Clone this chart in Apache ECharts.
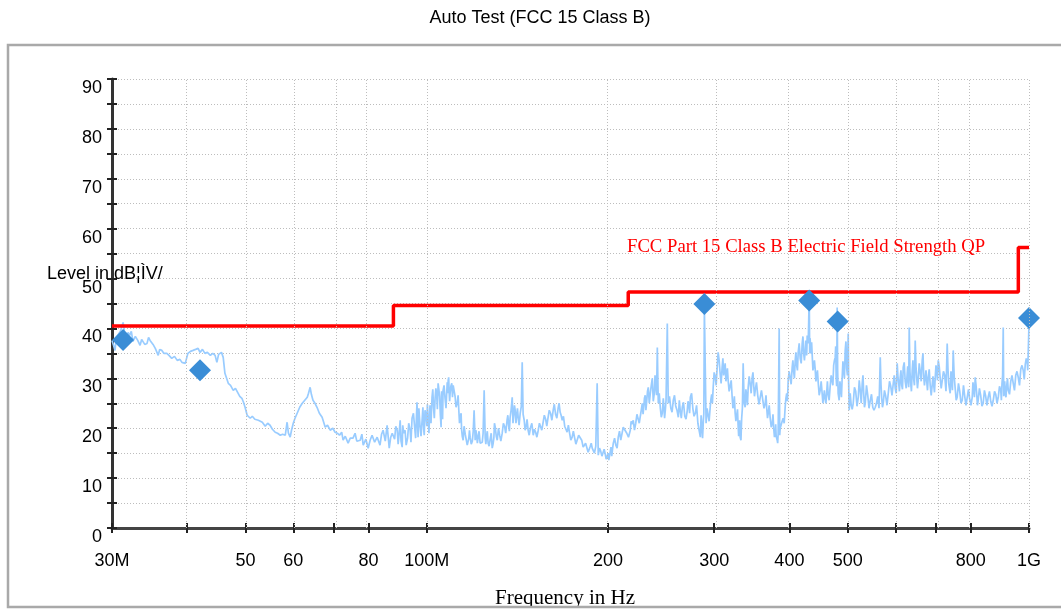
<!DOCTYPE html>
<html><head><meta charset="utf-8">
<script src="https://cdn.jsdelivr.net/npm/echarts@6.0.0/dist/echarts.min.js"></script>
<style>html,body{margin:0;padding:0;background:#fff}#c{width:1061px;height:609px}</style>
</head><body><div id="c"></div>
<script>
// ---- data (frequency in MHz, level in dBµV) ----
const xTickValues = [30,40,50,60,70,80,100,200,300,400,500,600,700,800,1000];
const xLabelValues = [30,50,60,80,100,200,300,400,500,800,1000];
const xLabelText = ['30M','50','60','80','100M','200','300','400','500','800','1G'];
const limitFreq = [30,88,88,216,216,960,960,1000];
const limitLevel = [40.5,40.5,44.6,44.6,47.3,47.3,56.2,56.2];
const peakFreq = [31.3,42.0,289,431.5,481,1000];
const peakLevel = [37.7,31.6,44.9,45.6,41.4,42.1];
// scan trace: main readings
const traceMain = [
[30.0,37.6],[30.2,36.5],[30.35,35.6],[30.5,38.2],[30.7,38.5],[31.0,39.5],[31.3,41.2],[31.5,38.8],[31.65,37.8],[31.9,39.2],[32.1,38.6],[32.3,39.4],[32.5,37.4],[32.8,38.4],[33.1,37.6],[33.4,36.6],[33.6,37.8],[33.8,38.0],[34.0,36.8],[34.3,37.0],[34.5,38.2],[34.7,37.6],[34.9,38.0],[35.1,36.8],[35.4,36.0],[35.8,34.6],[36.0,35.8],[36.3,35.6],[36.6,35.0],[37.0,35.0],[37.3,34.6],[37.7,34.0],[38.1,34.4],[38.5,33.6],[38.9,33.8],[39.2,33.2],[39.7,33.0],[40.1,35.0],[40.5,35.4],[40.9,35.6],[41.3,35.8],[41.7,36.0],[42.0,35.2],[42.4,35.8],[42.8,35.0],[43.2,35.2],[43.7,34.6],[44.1,35.0],[44.5,34.6],[44.8,33.2],[45.1,34.8],[45.4,35.0],[45.6,35.2],[45.9,34.2],
[46.2,31.0],[46.5,30.0],[46.8,29.0],[47.2,28.6],[47.7,27.6],[48.1,28.0],[48.6,27.0],[48.9,26.4],[49.3,26.0],[49.6,25.2],[49.9,24.2],[50.3,22.6],[50.6,22.8],[50.9,22.0],[51.3,22.4],[51.8,21.8],[52.5,21.6],[53.3,21.2],[53.6,20.8],[53.9,20.4],[54.4,21.0],[54.9,20.6],[55.4,19.8],[56.0,19.2],[56.5,19.0],[57.1,18.6],[57.6,18.8],[58.2,18.6],[58.6,21.2],[58.9,19.0],[59.3,18.2],[59.6,19.6],[60.0,21.0],
[60.4,22.0],[60.9,23.0],[61.5,24.2],[62.1,25.0],[62.7,25.6],[63.3,26.2],[63.6,27.0],[64.0,28.2],[64.3,26.8],[64.7,25.6],[65.2,25.0],[65.7,24.2],[66.3,23.0],[67.0,22.2],[67.4,21.2],[67.8,20.2],[68.4,20.6],[69.1,19.6],[69.8,20.0],[70.4,19.2],[71.0,19.0],[71.6,18.6],[72.2,19.2],[72.6,17.6],[73.2,18.4],[74.0,17.0],[74.6,18.0],[75.4,18.0],[76.0,19.0],[76.5,17.4],[76.9,17.0],[77.5,17.6],[78.0,18.8],[78.4,16.6],[79.2,17.8],[79.9,16.0],[80.5,17.6],[81.1,18.6],[81.9,17.2],[82.7,18.2],[83.6,16.6],[84.1,18.8],[84.6,19.6],[85.3,17.4],[85.9,20.6],[86.3,18.0],[86.6,16.0],[87.1,18.2],[87.6,19.0],[88.4,17.8],[89.3,19.6],[89.8,18.0],[90.3,21.6],[91.0,16.2],[91.5,19.0],[92.0,19.6],[92.9,18.0],[93.8,19.6],[94.5,22.0],[95.4,20.4],[96.3,25.2],[96.7,18.2],[97.4,20.6],[98.2,21.6],[98.8,19.8],[99.3,23.6],[100.0,20.4],[100.5,21.6],[101.2,24.6],[102.0,26.2],[102.6,24.0],[103.2,26.0],[103.8,27.0],[104.4,29.0],[105.0,26.4],[105.6,20.2],[106.0,25.0],[106.4,27.6],[107.2,26.0],[108.1,29.2],[108.5,29.6],[108.9,27.2],[109.3,27.0],[110.0,29.0],[110.6,28.6],[111.4,26.4],[112.3,25.0],[113.0,23.6],[113.6,22.2],[114.2,19.8],[114.9,17.6],[115.8,18.8],[116.7,16.6],[117.4,18.0],[118.0,18.2],[119.0,17.4],[119.8,23.6],[120.3,17.6],[121.0,18.6],[121.7,18.2],[122.6,17.0],[123.6,17.2],[124.5,27.6],[125.0,18.0],[125.7,18.6],[126.4,17.0],[127.4,17.8],[128.4,16.0],[129.2,18.0],[129.9,20.2],[130.9,17.6],[132.1,18.6],[133.4,19.0],[134.6,20.4],[135.9,21.6],[136.7,20.6],[137.5,22.2],[138.6,26.2],[139.4,22.6],[140.2,23.6],[141.0,21.4],[141.8,22.2],[142.9,23.0],[144.0,33.2],[145.1,21.6],[146.2,20.4],[147.3,19.6],[148.7,20.2],[150.2,18.6],[151.6,19.2],[153.1,19.6],[154.5,20.6],[156.0,21.2],[157.5,21.8],[159.0,22.2],[160.5,23.0],[162.1,23.6],[163.6,22.8],[165.2,24.0],[166.5,23.2],[167.8,21.6],[169.4,20.4],[171.0,19.2],[172.6,19.0],[174.3,18.2],[176.0,18.0],[177.7,17.2],[179.8,18.2],[181.8,16.2],[183.5,17.0],[185.3,15.2],[186.8,16.4],[188.2,16.0],[189.8,15.0],[191.8,29.0],[192.6,14.6],[194.4,15.4],[196.3,14.2],[197.8,14.8],[199.3,14.0],[200.5,13.6],[201.6,15.2],[202.8,14.4],[204.0,17.0],[206.0,16.6],[207.9,18.2],[209.9,17.6],[211.9,20.2],[214.8,19.0],[217.7,19.6],[219.0,20.8],[220.2,21.6],[222.3,21.0],[224.4,23.0],[226.2,22.4],[227.9,25.0],[229.2,24.2],[230.5,26.6],[231.8,25.4],[233.2,28.2],[235.0,27.0],[236.8,30.0],[238.6,27.0],[240.0,28.4],[241.4,36.2],[242.3,25.0],[244.2,24.0],[246.0,23.0],[247.4,24.6],[248.9,23.6],[250.8,41.0],[251.7,25.0],[254.2,24.0],[256.6,25.6],[259.0,24.4],[261.6,22.2],[263.6,23.4],[265.6,24.2],[268.1,22.4],[270.7,23.6],[272.3,24.8],[273.9,26.2],[276.5,24.0],[279.2,23.0],[281.9,21.0],[284.6,18.2],[286.2,20.6],[287.9,21.6],[289.0,44.2],[290.9,21.0],[293.2,22.6],[295.5,24.2],[297.2,26.8],[298.9,28.2],[301.2,30.4],[303.5,32.2],[304.6,35.2],[306.9,31.0],[309.3,32.2],[311.1,30.6],[312.9,33.0],[314.7,30.8],[316.5,29.6],[319.0,27.8],[321.4,26.2],[323.2,24.6],[325.1,23.0],[327.0,21.6],[328.9,20.2],[330.1,19.4],[331.4,18.2],[333.3,22.0],[335.2,33.0],[336.5,25.0],[337.8,24.2],[339.7,26.6],[341.7,28.2],[344.3,29.0],[347.0,30.2],[349.0,28.6],[351.0,27.6],[354.4,26.6],[357.8,26.2],[361.2,25.8],[364.7,25.0],[366.8,24.0],[368.9,23.0],[371.7,22.0],[374.6,21.0],[376.7,20.0],[378.9,19.0],[380.3,18.4],[381.8,17.6],[383.2,19.0],[384.7,40.0],[386.2,20.0],[387.7,19.6],[390.6,22.0],[393.6,24.2],[395.9,27.0],[398.2,29.6],[401.2,31.0],[404.3,32.2],[406.6,31.4],[409.0,33.6],[411.3,32.6],[413.7,35.2],[416.9,34.0],[420.1,37.0],[422.5,35.0],[425.0,35.6],[426.6,36.8],[428.2,38.6],[429.8,37.0],[431.5,47.0],[433.0,38.0],[434.5,35.0],[436.5,34.6],[438.9,32.4],[441.5,31.8],[444.0,30.6],[446.6,29.2],[450.0,27.6],[453.5,26.8],[456.0,25.4],[458.7,25.8],[461.3,27.0],[464.0,26.8],[467.5,28.4],[471.1,31.0],[473.8,32.6],[476.6,34.2],[478.4,30.0],[480.2,44.2],[482.0,27.0],[483.9,25.6],[486.7,28.0],[489.5,30.2],[492.3,33.0],[495.2,35.6],[498.0,32.0],[500.9,39.0],[502.8,23.6],[506.7,24.6],[510.6,25.0],[515.5,27.4],[520.5,26.2],[524.5,27.6],[528.5,29.0],[531.5,27.0],[534.6,25.0],[539.8,26.6],[545.0,25.6],[550.2,24.2],[555.5,24.2],[560.8,26.4],[566.2,34.2],[569.4,26.0],[572.7,25.0],[578.2,26.4],[583.8,27.0],[589.4,28.4],[595.1,29.0],[599.6,28.0],[604.1,33.0],[607.6,29.0],[611.1,30.2],[614.6,28.6],[618.2,32.2],[622.9,29.4],[627.7,31.0],[630.1,29.6],[632.5,40.2],[636.1,29.0],[639.8,31.6],[643.5,29.8],[647.2,37.6],[651.0,30.0],[654.7,29.6],[659.7,31.4],[664.8,33.6],[668.6,30.4],[672.5,28.2],[676.4,29.4],[680.2,30.2],[685.4,28.6],[690.7,26.2],[694.7,28.6],[698.7,30.2],[702.7,31.6],[706.7,33.6],[712.1,30.0],[717.6,28.2],[724.5,30.6],[731.4,37.0],[735.6,29.0],[739.8,27.0],[744.1,29.6],[748.4,35.6],[754.1,28.0],[759.9,26.2],[767.3,27.4],[774.7,25.6],[782.1,26.4],[789.6,25.0],[797.2,25.8],[804.8,26.2],[809.4,27.8],[814.1,30.2],[818.7,27.0],[823.4,25.6],[831.3,26.6],[839.3,25.0],[847.4,26.4],[855.5,26.2],[863.9,25.4],[872.3,25.6],[880.7,26.8],[889.1,26.2],[897.6,27.6],[901.9,29.0],[906.2,40.2],[909.6,28.2],[913.1,27.0],[918.4,28.6],[923.7,27.6],[932.6,29.4],[941.5,29.0],[950.6,30.6],[959.7,30.2],[969.0,31.8],[978.2,31.6],[985.8,32.8],[993.4,33.0],[997.0,35.0],[1000,41.0]
];
// scan trace: additional readings across the noisy band
const traceFill = [
[88.8,20.4],[89.6,16.8],[90.6,17.4],[91.2,20.6],[92.4,16.6],[93.3,21.0],[94.1,17.2],[95.0,23.0],[95.8,18.0],[96.5,21.6],[97.0,24.0],[97.8,18.4],[98.5,24.2],[99.0,18.6],[99.7,22.6],
[100.2,24.8],[100.8,19.0],[101.6,21.0],[102.3,27.8],[102.9,22.0],[103.5,28.0],[104.1,23.8],[104.7,27.8],[105.3,22.6],[105.8,27.4],[106.2,21.8],[106.8,28.6],[107.6,24.0],[108.3,27.0],[108.7,30.2],[109.1,25.4],[109.6,28.4],[110.3,26.2],[111.0,29.0],[111.8,24.2],[112.7,26.6],[113.3,21.0],[114.0,23.0],[114.5,18.4],[115.3,20.4],
[116.2,19.2],[117.0,17.0],[117.7,19.6],[118.5,16.8],[119.4,19.4],[120.6,19.6],[121.3,17.0],[122.1,19.4],[123.1,16.6],[124.0,19.0],[125.3,16.8],[126.0,19.4],[126.9,16.4],[127.9,19.0],[128.8,16.8],[129.5,21.0],[130.4,18.4],[131.5,20.0],[132.7,17.4],[134.0,21.0],[135.2,19.0],[136.3,22.6],[137.1,19.4],[138.0,23.6],[139.0,21.0],[139.8,24.6],[140.6,21.0],[141.4,24.0],[142.3,20.6],[143.5,24.4],[144.5,22.8],
[145.6,19.6],[146.7,21.8],[147.9,18.6],[149.4,21.0],[150.9,19.8],[152.3,18.2],[153.8,21.0],[155.2,19.6],[156.7,22.6],[158.2,20.4],[159.7,23.6],[161.3,21.6],[162.8,24.8],[164.4,22.0],[165.8,25.0],[167.1,22.6],[168.6,22.4],[170.2,19.8],[171.8,20.6],[173.4,17.6],[175.1,19.4],[176.8,16.8],[178.7,18.6],[180.8,17.6],[182.6,15.8],[184.4,17.2],[186.0,15.6],[187.5,17.0],[189.0,15.8],[190.8,16.4],[193.5,16.0],[195.3,14.4],[197.0,15.8],[198.5,13.8],[200.0,15.0],[201.1,13.4],[202.2,16.2],
[203.4,15.8],[205.0,18.0],[207.0,16.0],[208.9,19.4],[210.9,17.2],[213.3,20.6],[216.2,18.2],[218.4,21.4],[221.2,19.6],[223.3,22.8],[225.3,21.0],[227.0,23.6],[228.6,22.8],[229.8,26.0],[231.1,23.6],[232.5,27.4],[234.1,25.0],[235.9,28.6],[237.7,25.4],[239.3,30.6],[240.7,26.6],[243.2,27.0],[245.1,22.2],[247.0,26.0],[248.2,22.0],[249.6,25.6],[252.9,26.4],[255.4,23.2],[257.8,26.6],[260.3,23.6],[262.6,25.6],[264.6,22.0],[266.8,25.2],[269.4,21.8],[271.5,25.4],[273.1,23.0],[275.2,27.0],[277.8,22.4],[280.5,24.6],[283.2,19.6],[285.4,22.6],[287.0,18.0],[288.4,23.0],
[292.0,24.0],[294.3,21.4],[296.3,25.8],[298.0,25.0],[300.0,31.2],[302.3,28.6],[305.8,33.6],[308.1,29.0],[310.2,34.0],[312.0,31.6],[313.8,29.4],[315.6,32.0],[317.7,27.4],[320.2,29.6],[322.3,24.0],[324.1,26.4],[326.0,21.4],[328.0,23.8],[329.5,18.4],[330.8,21.6],[332.4,17.6],[334.2,24.0],[338.7,27.8],[340.7,24.6],[343.0,30.4],[345.6,27.0],[348.0,31.2],[350.0,26.4],[352.7,29.2],[356.1,24.8],[359.5,27.6],[363.0,24.0],[365.8,26.6],[367.9,22.0],[370.3,24.6],[373.2,20.2],[375.7,22.8],[377.8,18.2],[379.6,20.8],[382.5,17.0],[385.5,18.6],[389.1,21.4],[392.1,21.0],[394.7,26.0],[397.0,25.4],[399.7,31.4],[402.7,28.8],[405.4,33.6],[407.8,30.0],[410.1,35.2],[412.5,31.6],[415.3,37.0],[418.5,33.0],[421.3,38.4],[423.7,33.6],[425.8,37.6],[427.4,34.6],[430.6,41.0],[432.3,35.0],[435.5,37.2],[437.7,31.6],[440.2,33.6],[442.7,29.4],[445.3,31.6],[448.3,26.6],[451.7,29.4],[454.7,25.0],[457.3,27.6],[460.0,25.0],[462.6,29.4],[465.7,25.6],[469.3,30.6],[472.4,28.6],[475.2,33.6],[477.5,36.4],[479.3,28.4],[481.1,31.6],
[485.3,29.4],[488.1,26.2],[490.9,33.4],[493.7,30.0],[496.6,37.4],[499.4,30.6],[501.8,29.0],[504.7,27.0],[508.6,23.8],[513.0,28.2],[518.0,24.4],[522.5,29.6],[526.5,25.0],[530.0,30.6],[533.0,24.2],[537.2,28.6],[542.4,24.0],[547.6,26.8],[552.8,23.6],[558.1,25.0],[563.5,24.0],[567.8,28.8],[571.0,24.2],[575.4,27.6],[581.0,24.6],[586.6,29.4],[592.2,26.6],[597.3,30.6],[601.8,27.0],[605.8,30.4],[609.3,27.4],[612.8,31.6],[616.4,27.8],[620.5,33.2],[625.3,28.0],[628.9,32.4],[631.3,28.2],[634.3,31.4],[637.9,27.4],[641.6,33.6],[645.3,28.6],[649.1,32.4],[652.8,28.0],[657.2,33.0],[662.2,29.4],[666.7,35.0],[670.5,28.6],[674.4,31.6],[678.3,27.6],[682.8,31.8],[688.0,26.6],[692.7,30.4],[696.7,27.2],[700.7,32.6],[704.7,29.6],[709.4,32.4],[714.8,28.0],[721.0,31.4],[728.0,27.4],[733.5,32.0],[737.7,28.0],[742.0,31.4],[746.2,27.6],[751.2,30.4],[757.0,25.6],[763.6,29.0],[771.0,25.0],[778.4,28.6],[785.8,24.6],[793.4,27.8],[801.0,24.6],[807.1,29.2],[811.7,26.2],[816.4,28.8],[821.0,24.6],[827.3,28.0],[835.3,24.4],[843.3,27.6],[851.4,24.6],[859.7,27.4],[868.1,24.4],[876.5,27.4],[884.9,25.0],[893.3,28.4],[899.7,25.6],[904.0,30.6],[907.9,26.4],[911.3,29.4],[915.7,26.2],[921.0,30.0],[928.1,26.8],[937.0,30.6],[946.0,27.6],[955.1,31.4],[964.3,28.6],[973.6,32.6],[982.0,29.8],[989.6,34.0],[995.2,31.6]
];
const titleText = 'Auto Test (FCC 15 Class B)';
const yName = 'Level in dB\u00A6\u00CCV/';
const xName = 'Frequency in Hz';
const limitName = 'FCC Part 15 Class B Electric Field Strength QP';

// ---- chart ----
const L = v => Math.log10(v);
const SANS = '"Liberation Sans", Arial, sans-serif';
const SERIF = '"Liberation Serif", "Times New Roman", serif';
const labelFor = v => {
  for (let i = 0; i < xLabelValues.length; i++) if (Math.abs(L(xLabelValues[i]) - v) < 1e-6) return xLabelText[i];
  return '';
};
const trace = traceMain.concat(traceFill).sort((a, b) => a[0] - b[0]);
const chart = echarts.init(document.getElementById('c'), null, {renderer: 'canvas'});
const tickStyle = {color: '#222', width: 2};
const option = {
  animation: false,
  backgroundColor: '#fff',
  grid: {left: 112, right: 32, top: 79, bottom: 81, containLabel: false, outerBoundsMode: 'none'},
  xAxis: [{
    type: 'value', min: L(30), max: 3, position: 'bottom',
    axisLine: {show: true, onZero: false, lineStyle: {color: '#444', width: 3}},
    axisTick: {show: true, customValues: xTickValues.map(L), length: 5, inside: false, lineStyle: tickStyle},
    axisLabel: {show: true, customValues: xLabelValues.map(L), formatter: labelFor, margin: 24,
      fontFamily: SANS, fontSize: 18, color: '#000'},
    splitLine: {show: false}
  }, {
    type: 'value', min: L(30), max: 3, position: 'bottom',
    axisLine: {show: false, onZero: false},
    axisTick: {show: true, customValues: xTickValues.map(L), length: 5, inside: true, lineStyle: tickStyle},
    axisLabel: {show: false}, splitLine: {show: false}
  }],
  yAxis: [{
    type: 'value', min: 0, max: 90, interval: 5, position: 'left',
    axisLine: {show: true, onZero: false, lineStyle: {color: '#333', width: 3}},
    axisTick: {show: true, length: 5, inside: false, lineStyle: tickStyle},
    axisLabel: {formatter: v => (v % 10 === 0 ? String(v) : ''), margin: 10, verticalAlign: 'top',
      fontFamily: SANS, fontSize: 18, color: '#000'},
    splitLine: {show: true, lineStyle: {type: [1, 2], color: '#bdbdbd', width: 1}}
  }, {
    type: 'value', min: 0, max: 90, interval: 5, position: 'left', offset: 0,
    axisLine: {show: false, onZero: false},
    axisTick: {show: true, length: 5, inside: true, lineStyle: tickStyle},
    axisLabel: {show: false}, splitLine: {show: false}
  }],
  series: [{
    type: 'line', data: [], silent: true, z: 1,
    markLine: {
      silent: true, symbol: ['none', 'none'], animation: false,
      label: {show: false},
      lineStyle: {type: [1, 2], color: '#bdbdbd', width: 1},
      emphasis: {disabled: true},
      data: xTickValues.filter(v => v !== 30).map(v => ({xAxis: L(v)}))
    }
  }, {
    type: 'line', name: 'trace', z: 2,
    data: trace.map(p => [L(p[0]), p[1]]),
    showSymbol: false, symbol: 'none', sampling: null,
    lineStyle: {color: '#99ccff', width: 1.7},
    silent: true
  }, {
    type: 'line', name: 'limit', z: 3,
    data: limitFreq.map((f, i) => [L(f), limitLevel[i]]),
    showSymbol: false, symbol: 'none',
    lineStyle: {color: '#ff0000', width: 3.5},
    silent: true
  }, {
    type: 'scatter', name: 'peaks', z: 4, clip: false,
    data: peakFreq.map((f, i) => [L(f), peakLevel[i]]),
    symbol: 'diamond', symbolSize: 22,
    itemStyle: {color: '#3a8dd6', opacity: 1},
    silent: true
  }],
  graphic: [
    {type: 'text', z: 100, x: 540, y: 18, style: {text: titleText, font: '18px ' + SANS, fill: '#000', align: 'center', verticalAlign: 'middle'}},
    {type: 'text', z: 100, x: 47, y: 274, style: {text: yName, font: '18px ' + SANS, fill: '#000', align: 'left', verticalAlign: 'middle'}},
    {type: 'text', z: 100, x: 627, y: 247, style: {text: limitName, font: '18.7px ' + SERIF, fill: '#ff0000', align: 'left', verticalAlign: 'middle'}},
    {type: 'text', z: 100, x: 565, y: 598, style: {text: xName, font: '21px ' + SERIF, fill: '#000', align: 'center', verticalAlign: 'middle'}},
    {type: 'rect', z: 110, shape: {x: 0, y: 606, width: 1061, height: 10}, style: {fill: '#fff'}},
    {type: 'rect', z: 120, shape: {x: 8, y: 45, width: 1100, height: 562}, style: {fill: 'none', stroke: '#a9a9a9', lineWidth: 2.5}}
  ]
};
chart.setOption(option);
</script>
</body></html>
